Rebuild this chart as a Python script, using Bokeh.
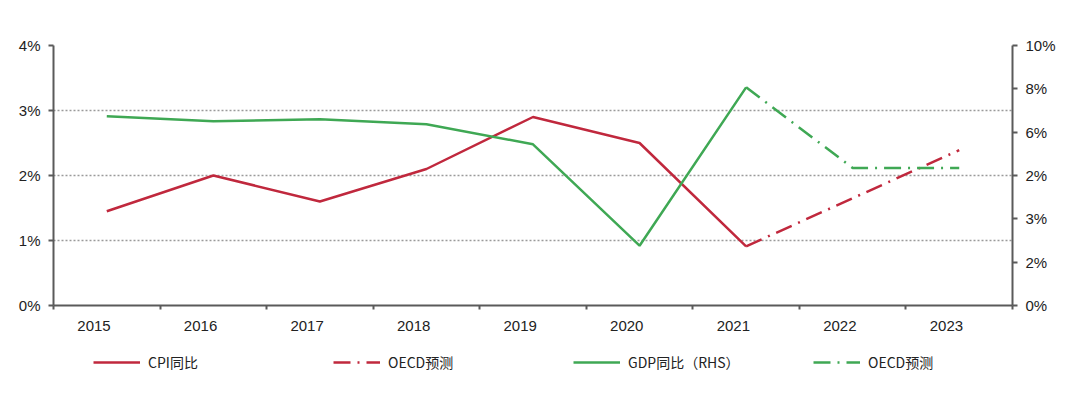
from bokeh.plotting import figure
from bokeh.layouts import column
from bokeh.models import (Range1d, LinearAxis, FixedTicker, CustomJSTickFormatter,
                          PrintfTickFormatter, Legend, LegendItem)
from bokeh.embed import file_html
from bokeh.resources import INLINE

years = ["2015", "2016", "2017", "2018", "2019", "2020", "2021", "2022", "2023"]
cpi_actual = [1.45, 2.0, 1.6, 2.1, 2.9, 2.5, 0.91]          # 2015-2021
cpi_forecast = [0.91, 1.65, 2.39]                            # 2021-2023
gdp_actual = [7.28, 7.09, 7.16, 6.97, 6.2, 2.3, 8.39]        # 2015-2021 (RHS)
gdp_forecast = [8.39, 5.29, 5.29]                            # 2021-2023 (RHS)
left_ticks = [0, 1, 2, 3, 4]
right_labels = ["0%", "2%", "3%", "2%", "6%", "8%", "10%"]
legend_labels = ["CPI同比", "OECD预测", "GDP同比（RHS）", "OECD预测"]

RED = "#C0283D"
GREEN = "#3FA854"
AXIS = "#5a5a5a"
TICK_FONT = "Liberation Sans"
CJK = "Noto Sans CJK SC"
DASH = "17 7 2 7"

n_act = len(cpi_actual)
x_act = [i + 0.5 for i in range(n_act)]
x_fc = [i + 0.5 for i in range(n_act - 1, n_act - 1 + len(cpi_forecast))]

p = figure(width=1075, height=340, x_range=Range1d(0, len(years)), y_range=Range1d(0, 4),
           output_backend="svg", toolbar_location=None,
           min_border_left=53, min_border_right=63, min_border_top=45, min_border_bottom=35)
p.outline_line_color = None
p.background_fill_color = "white"
p.extra_y_ranges = {"gdp": Range1d(0, 10)}

p.line(x_act, cpi_actual, line_color=RED, line_width=2.5)
p.line(x_fc, cpi_forecast, line_color=RED, line_width=2.5, line_dash=DASH)
p.line(x_act, gdp_actual, line_color=GREEN, line_width=2.5, y_range_name="gdp")
p.line(x_fc, gdp_forecast, line_color=GREEN, line_width=2.5, line_dash=DASH,
       y_range_name="gdp")

# x axis
xa = p.xaxis[0]
xa.ticker = FixedTicker(ticks=[i + 0.38 for i in range(len(years))],
                        minor_ticks=list(range(len(years) + 1)))
xa.formatter = CustomJSTickFormatter(args=dict(years=years),
                                     code="return years[Math.round(tick - 0.38)];")
xa.major_tick_line_color = None
xa.minor_tick_line_color = AXIS
xa.minor_tick_line_width = 2
xa.minor_tick_out = 4
xa.minor_tick_in = 0
xa.axis_line_color = AXIS
xa.axis_line_width = 2
xa.major_label_standoff = 9
xa.major_label_text_font = TICK_FONT
xa.major_label_text_font_size = "15px"
xa.major_label_text_color = "#222222"

# left axis
ya = p.yaxis[0]
ya.ticker = FixedTicker(ticks=left_ticks)
ya.formatter = PrintfTickFormatter(format="%d%%")
ya.axis_line_color = AXIS
ya.axis_line_width = 2
ya.major_tick_line_color = AXIS
ya.major_tick_line_width = 2
ya.major_tick_out = 5
ya.major_tick_in = 0
ya.minor_tick_line_color = None
ya.major_label_standoff = 8
ya.major_label_text_font = TICK_FONT
ya.major_label_text_font_size = "15px"
ya.major_label_text_color = "#222222"

# right axis
nr = len(right_labels) - 1
right = LinearAxis(y_range_name="gdp",
                   ticker=FixedTicker(ticks=[k * 10 / nr for k in range(nr + 1)]),
                   formatter=CustomJSTickFormatter(args=dict(labels=right_labels, n=nr),
                                                   code="return labels[Math.round(tick * n / 10)];"))
right.axis_line_color = AXIS
right.axis_line_width = 2
right.major_tick_line_color = AXIS
right.major_tick_line_width = 2
right.major_tick_out = 5
right.major_tick_in = 0
right.minor_tick_line_color = None
right.major_label_standoff = 8
right.major_label_text_font = TICK_FONT
right.major_label_text_font_size = "15px"
right.major_label_text_color = "#222222"
p.add_layout(right, "right")

p.xgrid.grid_line_color = None
p.ygrid.grid_line_color = "#9a9a9a"
p.ygrid.grid_line_dash = "2 2"
p.ygrid.grid_line_width = 1.5

# legend strip below the chart (series drawn outside its visible range, legend only)
lg = figure(width=1075, height=45, x_range=Range1d(0, len(years)), y_range=Range1d(100, 101),
            output_backend="svg", toolbar_location=None,
            x_axis_location=None, y_axis_location=None,
            min_border_left=0, min_border_right=0, min_border_top=0, min_border_bottom=0)
lg.grid.visible = False
lg.outline_line_color = None
lr1 = lg.line(x_act, cpi_actual, line_color=RED, line_width=2.5)
lr2 = lg.line(x_fc, cpi_forecast, line_color=RED, line_width=2.5, line_dash=DASH)
lr3 = lg.line(x_act, gdp_actual, line_color=GREEN, line_width=2.5)
lr4 = lg.line(x_fc, gdp_forecast, line_color=GREEN, line_width=2.5, line_dash=DASH)
legend = Legend(items=[LegendItem(label=legend_labels[0], renderers=[lr1]),
                       LegendItem(label=legend_labels[1], renderers=[lr2]),
                       LegendItem(label=legend_labels[2], renderers=[lr3]),
                       LegendItem(label=legend_labels[3], renderers=[lr4])],
                orientation="horizontal", location=(40, 13),
                glyph_width=47, glyph_height=20, label_standoff=8, label_width=112,
                spacing=73, padding=0, margin=0,
                label_text_font=CJK, label_text_font_size="14px", label_text_color="#222222",
                border_line_color=None, background_fill_alpha=0)
lg.add_layout(legend)

layout = column(p, lg, spacing=0)
open("out.html", "w").write(file_html(layout, INLINE))
